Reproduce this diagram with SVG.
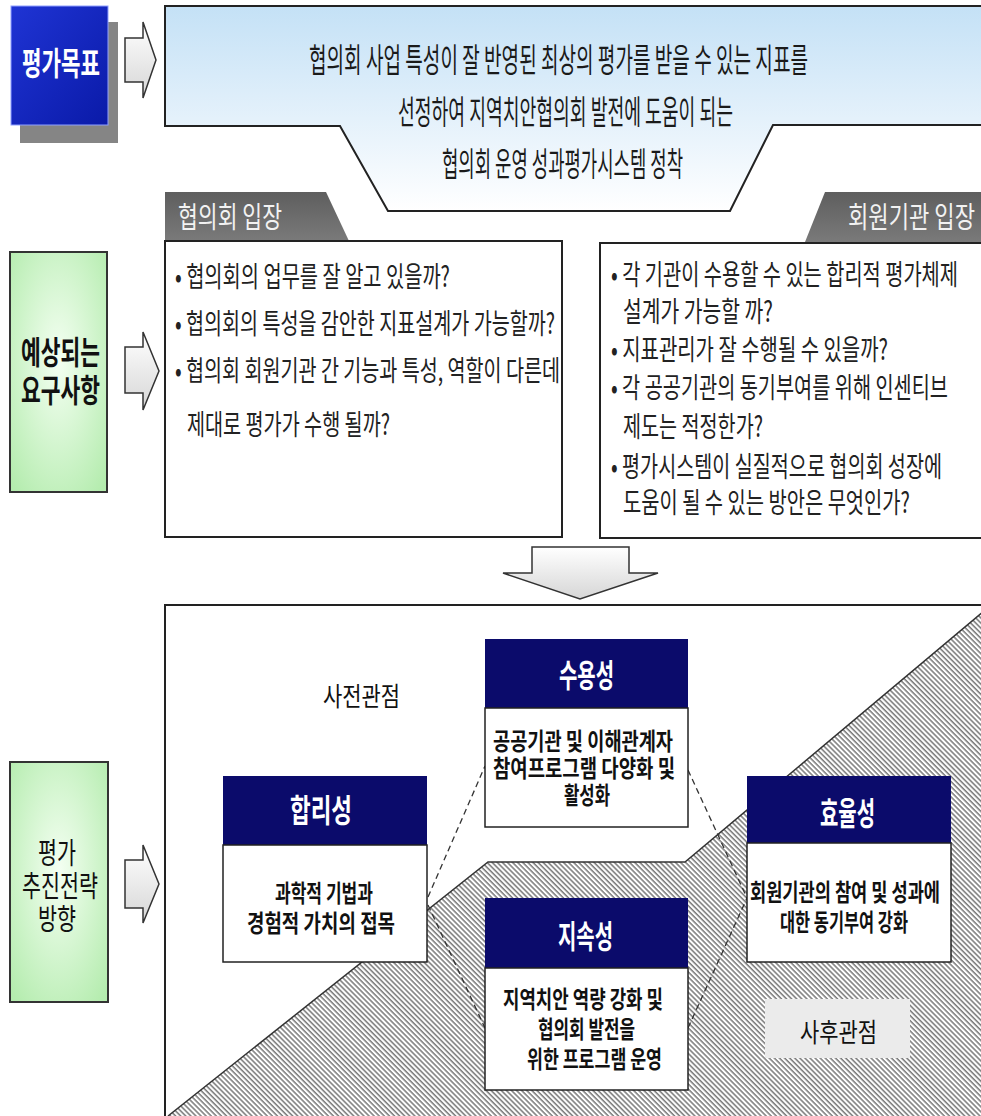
<svg xmlns="http://www.w3.org/2000/svg" width="981" height="1116" viewBox="0 0 981 1116">
<defs>
<style>
text{font-family:"Noto Sans CJK KR","Noto Sans",sans-serif;}
.goal{font-size:33px;fill:#1a1a1a;}
.bul{font-size:28px;fill:#222;}
.tab{font-size:29px;fill:#f2f2f2;}
.hd{font-size:32px;font-weight:700;fill:#fff;}
.bd{font-size:24px;font-weight:700;fill:#111;}
.lbl{font-size:26px;fill:#111;}
.box{fill:#fff;stroke:#222;stroke-width:2;}
.nb{fill:#fff;stroke:#222;stroke-width:1.5;}
.nh{fill:#0b0b6b;}
.arr{fill:url(#ag);stroke:#333;stroke-width:1.5;stroke-linejoin:miter;}
.dash{fill:none;stroke:#333;stroke-width:1.3;stroke-dasharray:6 4;}
.green{fill:url(#gg);stroke:#333;stroke-width:2;}
</style>
<linearGradient id="goalg" x1="0" y1="0" x2="0" y2="1">
<stop offset="0" stop-color="#c4e1f6"/>
<stop offset="0.55" stop-color="#e4f1fb"/>
<stop offset="1" stop-color="#ffffff"/>
</linearGradient>
<linearGradient id="ag" x1="0" y1="0" x2="0" y2="1">
<stop offset="0" stop-color="#ffffff"/>
<stop offset="1" stop-color="#d6d6d6"/>
</linearGradient>
<linearGradient id="tabg" x1="0" y1="0" x2="0" y2="1">
<stop offset="0" stop-color="#5e5e5e"/>
<stop offset="1" stop-color="#7a7a7a"/>
</linearGradient>
<linearGradient id="blueg" x1="0" y1="0" x2="1" y2="1">
<stop offset="0" stop-color="#1f34d4"/>
<stop offset="1" stop-color="#0a1aa8"/>
</linearGradient>
<radialGradient id="gg" cx="0.5" cy="0.45" r="0.7">
<stop offset="0" stop-color="#f4fff2"/>
<stop offset="1" stop-color="#b4ecae"/>
</radialGradient>
<pattern id="hatch" width="3.6" height="4" patternUnits="userSpaceOnUse" patternTransform="rotate(-45)">
<line x1="1" y1="0" x2="1" y2="4" stroke="#555" stroke-width="1.2"/>
</pattern>
</defs>
<rect width="981" height="1116" fill="#ffffff"/>

<g id="goal-label">
<rect x="20" y="22" width="98" height="121" fill="#858585"/>
<rect x="11" y="6" width="97" height="119" fill="url(#blueg)" stroke="#8fa0ff" stroke-width="1"/>
<text x="22" y="75" font-size="32" font-weight="700" fill="#fff" textLength="78" lengthAdjust="spacingAndGlyphs">평가목표</text>
</g>

<g id="goal-box">
<path d="M165,6 H990 V125 H773 L730,211 H388 L340,126 H165 Z" fill="url(#goalg)" stroke="none"/>
<path d="M990,6 H165 V126 H340 L388,211 H730 L773,125 H990" fill="none" stroke="#222" stroke-width="2"/>
<text x="309" y="72" class="goal" textLength="499" lengthAdjust="spacingAndGlyphs">협의회 사업 특성이 잘 반영된 최상의 평가를 받을 수 있는 지표를</text>
<text x="398" y="124" class="goal" textLength="335" lengthAdjust="spacingAndGlyphs">선정하여 지역치안협의회 발전에 도움이 되는</text>
<text x="442" y="176" class="goal" textLength="241" lengthAdjust="spacingAndGlyphs">협의회 운영 성과평가시스템 정착</text>
</g>

<g id="req-label">
<rect x="10" y="252" width="97" height="240" class="green"/>
<text x="21" y="364" font-size="32" font-weight="700" fill="#111" textLength="79" lengthAdjust="spacingAndGlyphs">예상되는</text>
<text x="21" y="402" font-size="32" font-weight="700" fill="#111" textLength="79" lengthAdjust="spacingAndGlyphs">요구사항</text>
</g>

<g id="council-view">
<polygon points="165,192 326,192 349,241 165,241" fill="url(#tabg)"/>
<text x="178" y="228" class="tab" textLength="104" lengthAdjust="spacingAndGlyphs">협의회 입장</text>
<rect x="165" y="241" width="397" height="296" class="box"/>
<text x="175" y="287" class="bul" textLength="275" lengthAdjust="spacingAndGlyphs">• 협의회의 업무를 잘 알고 있을까?</text>
<text x="175" y="334" class="bul" textLength="380" lengthAdjust="spacingAndGlyphs">• 협의회의 특성을 감안한 지표설계가 가능할까?</text>
<text x="175" y="381" class="bul" textLength="385" lengthAdjust="spacingAndGlyphs">• 협의회 회원기관 간 기능과 특성, 역할이 다른데</text>
<text x="187" y="435" class="bul" textLength="203" lengthAdjust="spacingAndGlyphs">제대로 평가가 수행 될까?</text>
</g>

<g id="member-view">
<polygon points="825,192 990,192 990,242 805,242" fill="url(#tabg)"/>
<text x="848" y="228" class="tab" textLength="127" lengthAdjust="spacingAndGlyphs">회원기관 입장</text>
<rect x="600" y="243" width="400" height="295" class="box"/>
<text x="611" y="285" class="bul" textLength="347" lengthAdjust="spacingAndGlyphs">• 각 기관이 수용할 수 있는 합리적 평가체제</text>
<text x="623" y="322" class="bul" textLength="150" lengthAdjust="spacingAndGlyphs">설계가 가능할 까?</text>
<text x="611" y="360" class="bul" textLength="277" lengthAdjust="spacingAndGlyphs">• 지표관리가 잘 수행될 수 있을까?</text>
<text x="611" y="398" class="bul" textLength="337" lengthAdjust="spacingAndGlyphs">• 각 공공기관의 동기부여를 위해 인센티브</text>
<text x="623" y="437" class="bul" textLength="140" lengthAdjust="spacingAndGlyphs">제도는 적정한가?</text>
<text x="611" y="477" class="bul" textLength="331" lengthAdjust="spacingAndGlyphs">• 평가시스템이 실질적으로 협의회 성장에</text>
<text x="623" y="513" class="bul" textLength="287" lengthAdjust="spacingAndGlyphs">도움이 될 수 있는 방안은 무엇인가?</text>
</g>

<g id="strategy-label">
<rect x="10" y="762" width="98" height="240" class="green"/>
<text x="38" y="864" font-size="29" fill="#111" textLength="38" lengthAdjust="spacingAndGlyphs">평가</text>
<text x="22" y="897" font-size="29" fill="#111" textLength="76" lengthAdjust="spacingAndGlyphs">추진전략</text>
<text x="38" y="930" font-size="29" fill="#111" textLength="38" lengthAdjust="spacingAndGlyphs">방향</text>
</g>

<g id="connectors">
<polygon class="arr" points="125,38 143,38 143,22 156,60 143,98 143,82 125,82"/>
<polygon class="arr" points="125,347 143,347 143,332 159,371 143,410 143,393 125,393"/>
<polygon class="arr" points="125,860 143,860 143,845 159,884 143,923 143,908 125,908"/>
<polygon class="arr" points="532,547 629,547 629,573 658,573 580,599 503,573 532,573"/>
</g>

<g id="strategy-area">
<path d="M1000,605 H165 V1130" fill="none" stroke="#222" stroke-width="2"/>
<polygon points="168,1116 488,862 685,862 990,606 990,1116" fill="url(#hatch)"/>
<polyline points="168,1116 488,862 685,862 990,606" fill="none" stroke="#333" stroke-width="1.5"/>
<text x="323" y="706" class="lbl" textLength="77" lengthAdjust="spacingAndGlyphs">사전관점</text>
<rect x="765" y="999" width="145" height="59" fill="#ebebeb"/>
<text x="800" y="1042" class="lbl" textLength="77" lengthAdjust="spacingAndGlyphs">사후관점</text>
</g>

<g id="dashed-links">
<line class="dash" x1="428" y1="897" x2="485" y2="766"/>
<line class="dash" x1="428" y1="905" x2="485" y2="1028"/>
<line class="dash" x1="688" y1="770" x2="747" y2="898"/>
<line class="dash" x1="688" y1="1028" x2="747" y2="898"/>
</g>

<g id="node-rationality">
<rect x="223" y="776" width="204" height="69" class="nh"/>
<rect x="223" y="845" width="204" height="117" class="nb"/>
<text x="290" y="822" class="hd" textLength="62" lengthAdjust="spacingAndGlyphs">합리성</text>
<text x="275" y="902" class="bd" textLength="98" lengthAdjust="spacingAndGlyphs">과학적 기법과</text>
<text x="247" y="932" class="bd" textLength="148" lengthAdjust="spacingAndGlyphs">경험적 가치의 접목</text>
</g>

<g id="node-acceptance">
<rect x="485" y="639" width="203" height="69" class="nh"/>
<rect x="485" y="708" width="203" height="119" class="nb"/>
<text x="559" y="687" class="hd" textLength="55" lengthAdjust="spacingAndGlyphs">수용성</text>
<text x="493" y="750" class="bd" textLength="180" lengthAdjust="spacingAndGlyphs">공공기관 및 이해관계자</text>
<text x="493" y="777" class="bd" textLength="182" lengthAdjust="spacingAndGlyphs">참여프로그램 다양화 및</text>
<text x="564" y="804" class="bd" textLength="46" lengthAdjust="spacingAndGlyphs">활성화</text>
</g>

<g id="node-efficiency">
<rect x="747" y="776" width="204" height="67" class="nh"/>
<rect x="747" y="843" width="204" height="119" class="nb"/>
<text x="820" y="825" class="hd" textLength="55" lengthAdjust="spacingAndGlyphs">효율성</text>
<text x="750" y="901" class="bd" textLength="190" lengthAdjust="spacingAndGlyphs">회원기관의 참여 및 성과에</text>
<text x="780" y="931" class="bd" textLength="128" lengthAdjust="spacingAndGlyphs">대한 동기부여 강화</text>
</g>

<g id="node-sustainability">
<rect x="485" y="898" width="203" height="70" class="nh"/>
<rect x="485" y="968" width="203" height="122" class="nb"/>
<text x="558" y="948" class="hd" textLength="55" lengthAdjust="spacingAndGlyphs">지속성</text>
<text x="503" y="1008" class="bd" textLength="160" lengthAdjust="spacingAndGlyphs">지역치안 역량 강화 및</text>
<text x="538" y="1038" class="bd" textLength="97" lengthAdjust="spacingAndGlyphs">협의회 발전을</text>
<text x="527" y="1068" class="bd" textLength="135" lengthAdjust="spacingAndGlyphs">위한 프로그램 운영</text>
</g>
</svg>
